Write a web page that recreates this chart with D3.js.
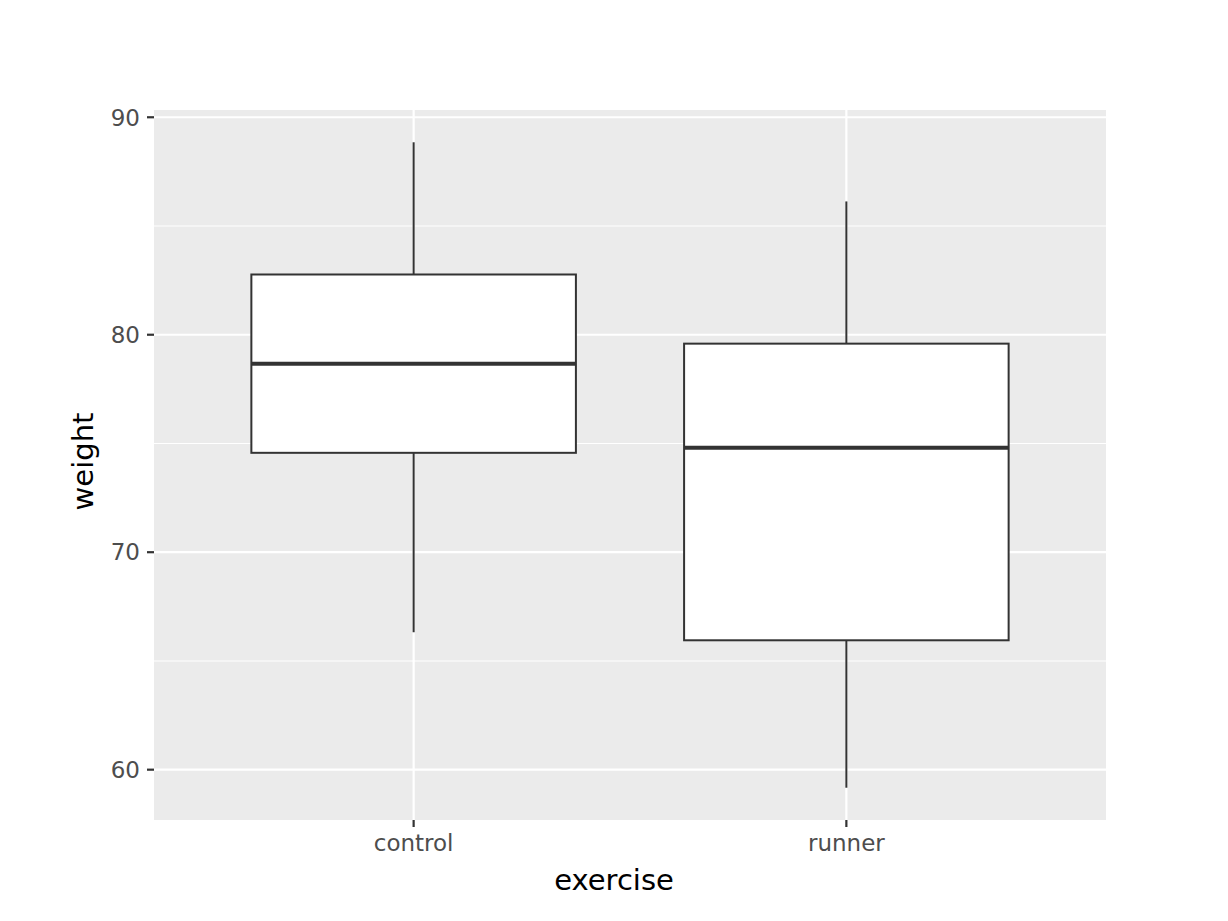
<!DOCTYPE html>
<html><head><meta charset="utf-8">
<script src="https://cdn.jsdelivr.net/npm/d3@7"></script>
<style>body{margin:0;background:#fff}svg{display:block}text{font-family:"DejaVu Sans",sans-serif}</style>
</head><body>
<script>
const categories = ["control", "runner"];
const whiskerLow = [66.32, 59.17];
const q1 = [74.57, 65.95];
const median = [78.67, 74.80];
const q3 = [82.77, 79.59];
const whiskerHigh = [88.85, 86.13];
const yTicks = [60, 70, 80, 90];
const yMinor = [65, 75, 85];

const W = 1228, H = 921;
const L = 154, R = 1106, T = 110, B = 820;
const svg = d3.select("body").append("svg").attr("width", W).attr("height", H);

const dataMin = d3.min(whiskerLow), dataMax = d3.max(whiskerHigh);
const pad = (dataMax - dataMin) * 0.05;
const y = d3.scaleLinear().domain([dataMin - pad, dataMax + pad]).range([B, T]);
const x = d3.scaleLinear().domain([0.4, categories.length + 0.6]).range([L, R]);

svg.append("rect").attr("x", L).attr("y", T).attr("width", R - L).attr("height", B - T).attr("fill", "#ebebeb");
const g = svg.append("g");
yMinor.forEach(v => g.append("line").attr("x1", L).attr("x2", R).attr("y1", y(v)).attr("y2", y(v)).attr("stroke", "#fff").attr("stroke-width", 1.1));
yTicks.forEach(v => g.append("line").attr("x1", L).attr("x2", R).attr("y1", y(v)).attr("y2", y(v)).attr("stroke", "#fff").attr("stroke-width", 2.2));
categories.forEach((c, i) => g.append("line").attr("x1", x(i + 1)).attr("x2", x(i + 1)).attr("y1", T).attr("y2", B).attr("stroke", "#fff").attr("stroke-width", 2.2));

const bw = x(1.375) - x(0.625);
categories.forEach((c, i) => {
  const cx = x(i + 1);
  g.append("line").attr("x1", cx).attr("x2", cx).attr("y1", y(whiskerHigh[i])).attr("y2", y(q3[i])).attr("stroke", "#333").attr("stroke-width", 2);
  g.append("line").attr("x1", cx).attr("x2", cx).attr("y1", y(q1[i])).attr("y2", y(whiskerLow[i])).attr("stroke", "#333").attr("stroke-width", 2);
  g.append("rect").attr("x", cx - bw / 2).attr("y", y(q3[i])).attr("width", bw).attr("height", y(q1[i]) - y(q3[i]))
    .attr("fill", "#fff").attr("stroke", "#333").attr("stroke-width", 2);
  g.append("line").attr("x1", cx - bw / 2).attr("x2", cx + bw / 2).attr("y1", y(median[i])).attr("y2", y(median[i])).attr("stroke", "#333").attr("stroke-width", 4);
});

// axes
yTicks.forEach(v => {
  svg.append("line").attr("x1", L - 7).attr("x2", L).attr("y1", y(v)).attr("y2", y(v)).attr("stroke", "#333").attr("stroke-width", 2.2);
  svg.append("text").attr("x", L - 14).attr("y", y(v)).attr("dy", "0.36em").attr("text-anchor", "end")
    .attr("font-size", 23).attr("fill", "#4d4d4d").text(v);
});
categories.forEach((c, i) => {
  svg.append("line").attr("x1", x(i + 1)).attr("x2", x(i + 1)).attr("y1", B).attr("y2", B + 7).attr("stroke", "#333").attr("stroke-width", 2.2);
  svg.append("text").attr("x", x(i + 1)).attr("y", B + 31).attr("text-anchor", "middle")
    .attr("font-size", 23).attr("fill", "#4d4d4d").text(c);
});
svg.append("text").attr("x", W / 2).attr("y", 890).attr("text-anchor", "middle").attr("font-size", 29).attr("fill", "#000").text("exercise");
svg.append("text").attr("transform", `translate(93,${H / 2 + 1}) rotate(-90)`).attr("text-anchor", "middle").attr("font-size", 29).attr("fill", "#000").text("weight");
</script>
</body></html>
